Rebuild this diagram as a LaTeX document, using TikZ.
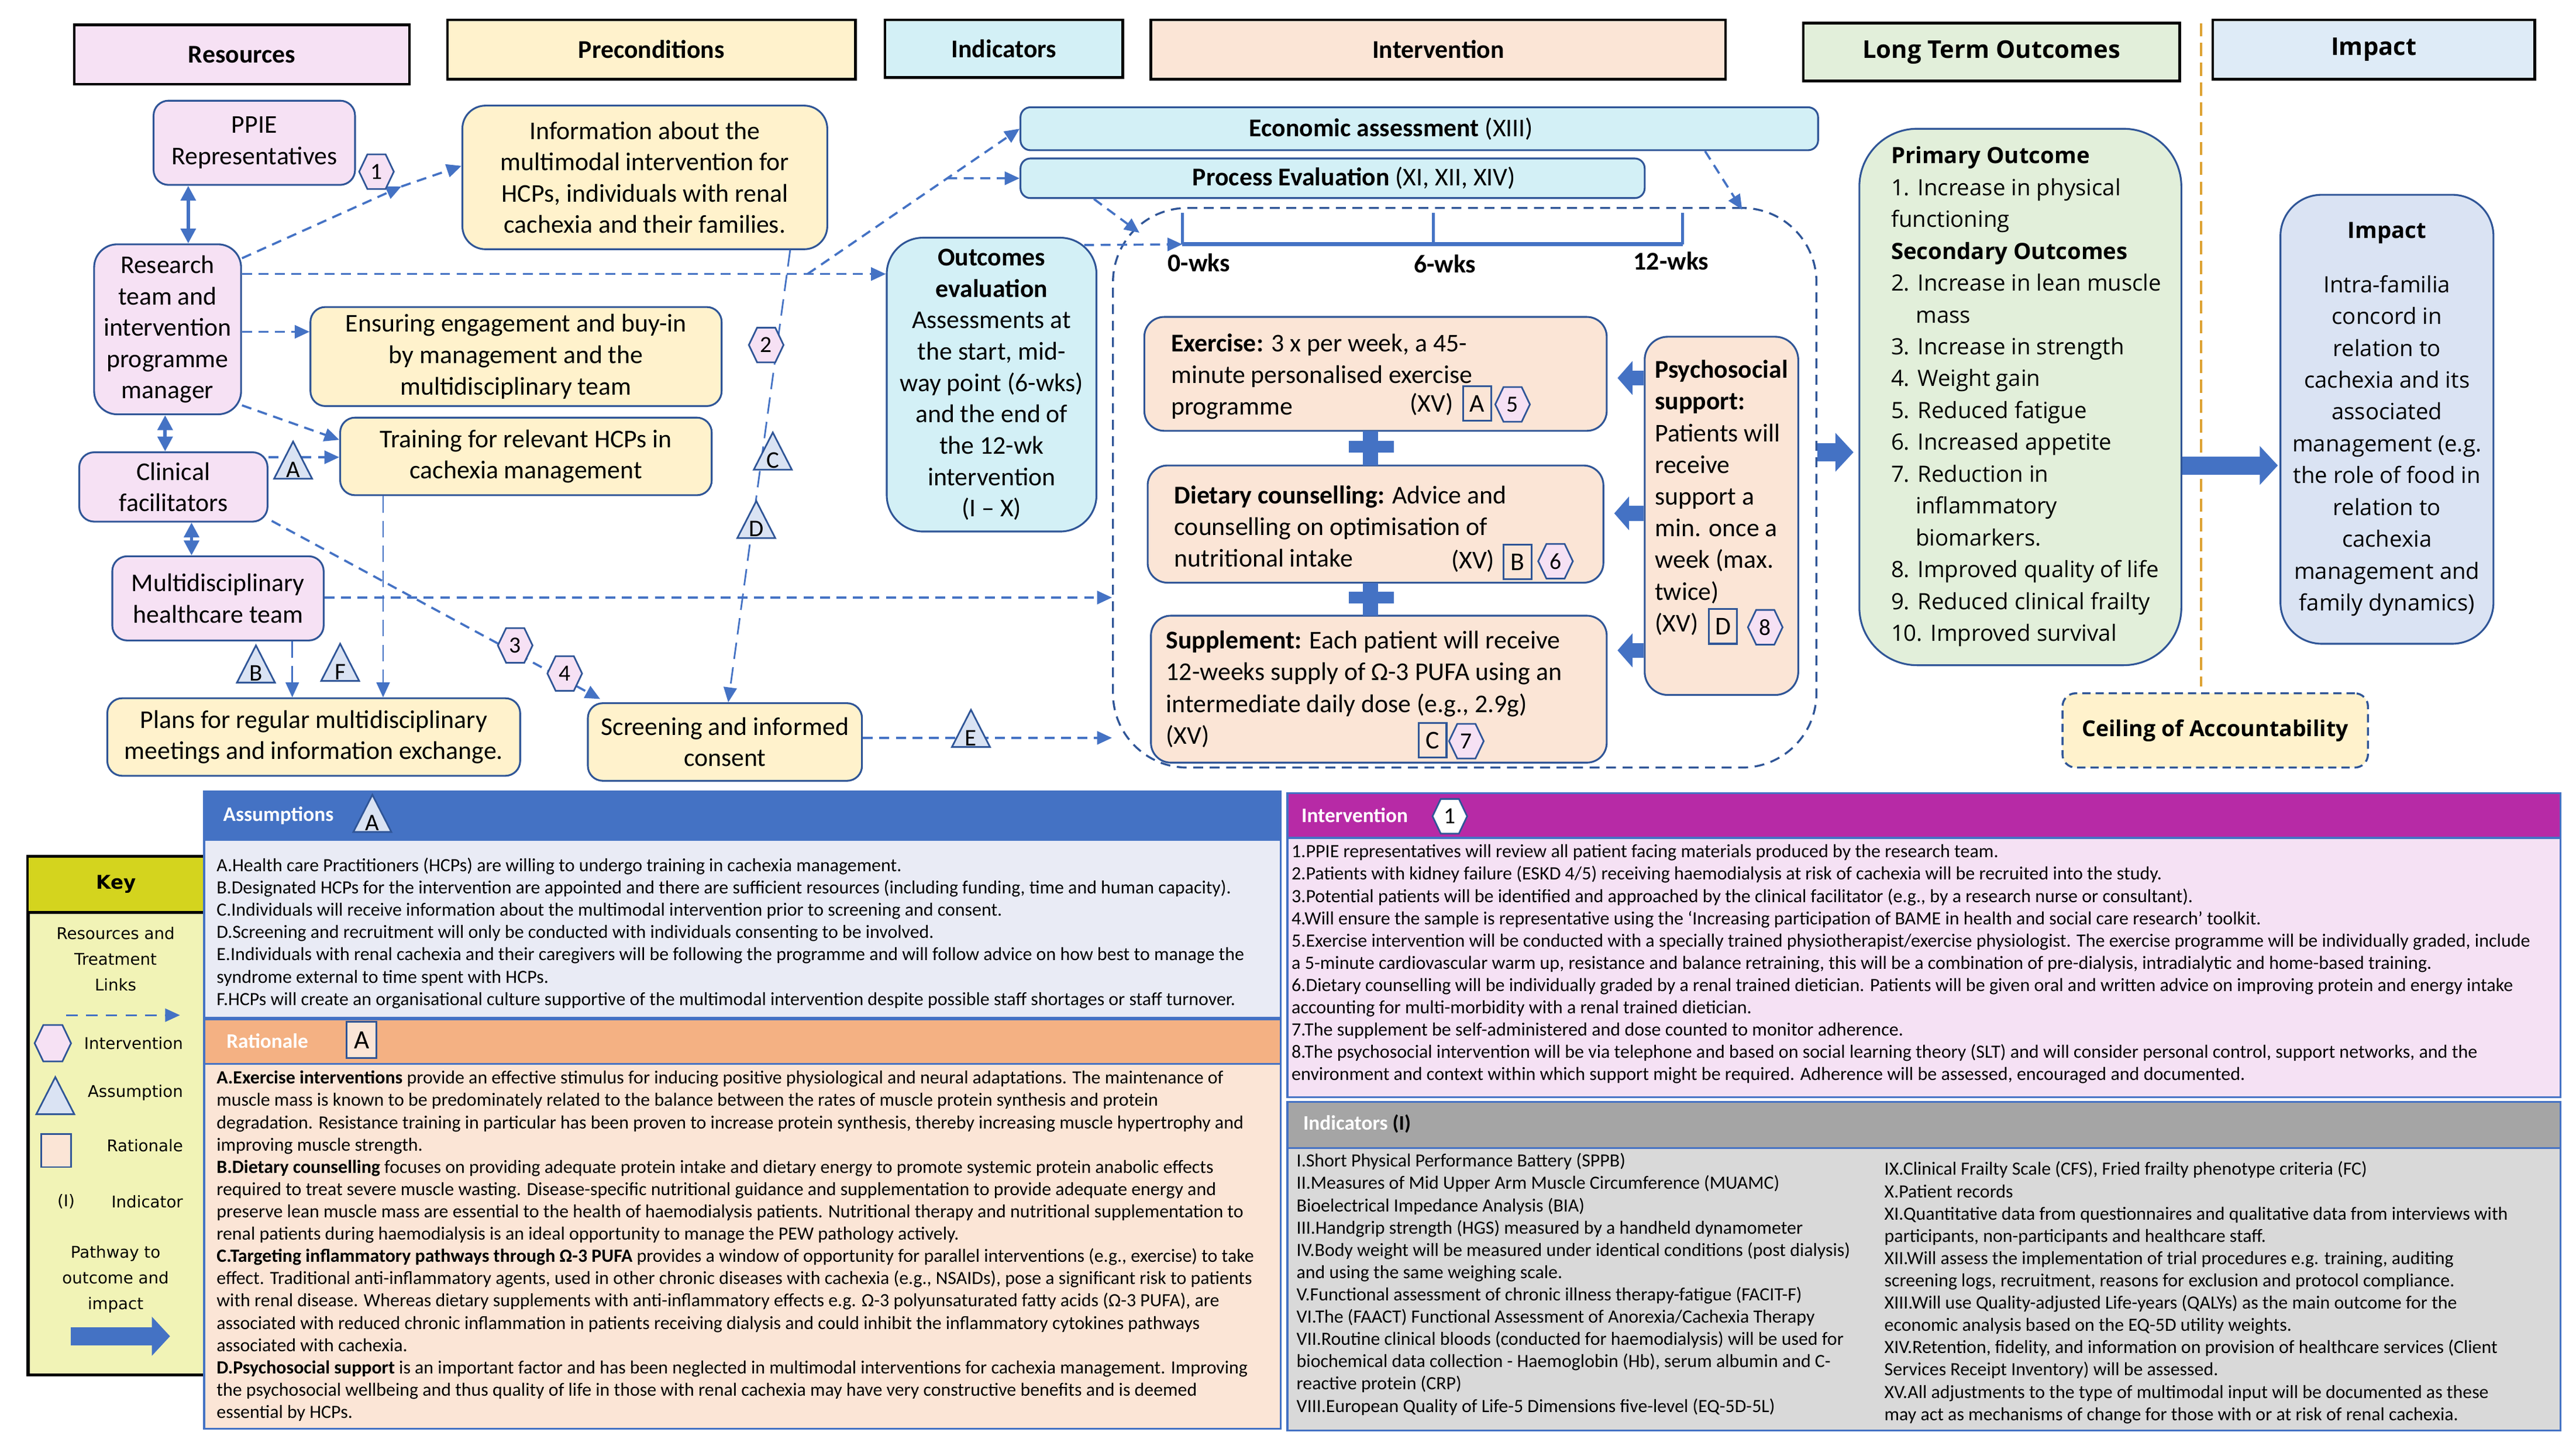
\documentclass[tikz,border=0pt]{standalone}
\usepackage{fontspec}
\setmainfont{Carlito}
\newfontfamily\osans{Open Sans}
\newfontfamily\dvs{DejaVu Sans}
\usetikzlibrary{arrows.meta,shapes.geometric,calc}
\definecolor{bdr}{HTML}{2F5597}
\definecolor{arr}{HTML}{4472C4}
\definecolor{pinkf}{HTML}{F6E1F4}
\definecolor{yelf}{HTML}{FFF2CC}
\definecolor{cyanf}{HTML}{D3F0F6}
\definecolor{peachf}{HTML}{FBE5D6}
\definecolor{greenf}{HTML}{E2EFDA}
\definecolor{bluef}{HTML}{DEEBF7}
\definecolor{impf}{HTML}{DAE3F3}
\definecolor{trif}{HTML}{DAE3F3}
\definecolor{keyh}{HTML}{D4D41E}
\definecolor{keyb}{HTML}{F1F3B6}
\definecolor{assb}{HTML}{E9EBF5}
\definecolor{rath}{HTML}{F4B183}
\definecolor{intph}{HTML}{B72AA6}
\definecolor{intpb}{HTML}{F5E1F4}
\definecolor{indh}{HTML}{A5A5A5}
\definecolor{indb}{HTML}{D9D9D9}
\definecolor{orng}{HTML}{DDA232}
\newcommand\fs[2]{\fontsize{#1}{#2}\selectfont}
\tikzset{
 hdr/.style={draw=black, line width=1.6pt, font=\fs{15.5}{19}\bfseries, inner sep=0pt},
 rbox/.style={draw=bdr, line width=1.1pt, rounded corners=9pt, align=center, font=\fs{15.5}{19}, inner sep=0pt},
 txt/.style={inner sep=0pt, align=left, font=\fs{15.5}{19.2}},
 small/.style={inner sep=0pt, align=left, anchor=north west, font=\fs{11.3}{13.5}},
 dl/.style={draw=arr, line width=1.3pt, dash pattern=on 6pt off 4pt, -{Triangle[length=9pt,width=8pt]}},
 dll/.style={draw=arr, line width=1pt, dash pattern=on 10pt off 5pt, -{Triangle[length=9pt,width=8pt]}},
 dbl/.style={draw=arr, line width=2pt, {Triangle[length=9pt,width=9pt]}-{Triangle[length=9pt,width=9pt]}},
 barrow/.style={draw=arr, line width=11pt, -{Triangle[length=11pt,width=23pt]}},
 barrowp/.style={draw=arr, line width=9pt, -{Triangle[length=9pt,width=20pt]}},
 lbox/.style={draw=bdr, line width=1.1pt, minimum width=17pt, minimum height=21pt, inner sep=0pt, font=\fs{15.5}{19}},
 keyt/.style={anchor=east, font=\dvs\fs{9.8}{12}, inner sep=0pt},
 pics/tri/.style={code={
   \draw[fill=trif,draw=bdr,line width=1pt] (-11.5,11) -- (11.5,11) -- (0,-11.5) -- cycle;
   \node[inner sep=0pt,font=\fs{14.5}{14}] (-l) at (0,5.5) {#1};
 }},
 pics/hexa/.style={code={
   \draw[fill=pinkf,draw=bdr,line width=1pt] (-10.5,0) -- (-5.5,-10.5) -- (5.5,-10.5) -- (10.5,0) -- (5.5,10.5) -- (-5.5,10.5) -- cycle;
   \node[inner sep=0pt,font=\fs{14}{14}] (-l) at (0,0) {#1};
 }},
 pics/hexw/.style={code={
   \draw[fill=white,draw=bdr,line width=1pt] (-10.5,0) -- (-5.5,-10.5) -- (5.5,-10.5) -- (10.5,0) -- (5.5,10.5) -- (-5.5,10.5) -- cycle;
   \node[inner sep=0pt,font=\fs{14}{14}] (-l) at (0,0) {#1};
 }},
}
\begin{document}
\begin{tikzpicture}[x=1pt,y=-1pt]
\useasboundingbox (0,0) rectangle (1560,880);
% ---------- headers
\node[hdr,fill=pinkf,minimum width=203pt,minimum height=36pt] (hRes) at (146.5,33) {Resources};
\node[hdr,fill=yelf,minimum width=247pt,minimum height=36pt] (hPre) at (394.5,30) {Preconditions};
\node[hdr,fill=cyanf,minimum width=144pt,minimum height=35pt] (hInd) at (608,29.5) {Indicators};
\node[hdr,fill=peachf,minimum width=348pt,minimum height=36pt] (hInt) at (871,30) {Intervention};
\node[hdr,fill=greenf,minimum width=228pt,minimum height=35pt,font=\osans\fs{14.8}{17}\bfseries] (hLto) at (1206,31.5) {Long Term Outcomes};
\node[hdr,fill=bluef,minimum width=195pt,minimum height=36pt,font=\osans\fs{14.8}{17}\bfseries] (hImp) at (1437.5,30) {Impact};
% ---------- helper coordinates
\coordinate (y166) at (0,166);
\coordinate (y201) at (0,201);
\coordinate (y277) at (0,277);
\coordinate (y362) at (0,362);
\coordinate (y447) at (0,447);
\coordinate (y229) at (0,229);
\coordinate (y311) at (0,311);
\coordinate (y394) at (0,394);
\coordinate (y274) at (0,274);
\coordinate (y282) at (0,282);
\coordinate (ax1) at (114,0);
\coordinate (ax2) at (100,0);
\coordinate (ax3) at (116,0);
\coordinate (ax4) at (177,0);
\coordinate (ax5) at (232,0);
% ---------- region
\node[draw=bdr, line width=1.2pt, dash pattern=on 6pt off 4pt, rounded corners=45pt, minimum width=426pt, minimum height=339pt, inner sep=0pt] (region) at (887,295.5) {};
% ---------- resources
\node[rbox,fill=pinkf,minimum width=122pt,minimum height=51pt] (ppie) at (154,86.5) {PPIE\\Representatives};
\node[rbox,fill=pinkf,minimum width=89pt,minimum height=103pt,rounded corners=14pt] (res) at (101.5,199.5) {Research\\team and\\intervention\\programme\\manager};
\node[rbox,fill=pinkf,minimum width=114pt,minimum height=42pt] (clin) at (105,295) {Clinical\\facilitators};
\node[rbox,fill=pinkf,minimum width=128pt,minimum height=51pt] (mdt) at (132,362.5) {Multidisciplinary\\healthcare team};
% ---------- preconditions
\node[rbox,fill=yelf,minimum width=221pt,minimum height=87pt,rounded corners=14pt] (info) at (390.5,107.5) {Information about the\\multimodal intervention for\\HCPs, individuals with renal\\cachexia and their families.};
\node[rbox,fill=yelf,minimum width=249pt,minimum height=60pt] (eng) at (312.5,216) {Ensuring engagement and buy-in\\by management and the\\multidisciplinary team};
\node[rbox,fill=yelf,minimum width=225pt,minimum height=47pt] (train) at (318.5,276.5) {Training for relevant HCPs in\\cachexia management};
\node[rbox,fill=yelf,minimum width=250pt,minimum height=47pt] (plans) at (190,446.5) {Plans for regular multidisciplinary\\meetings and information exchange.};
\node[rbox,fill=yelf,minimum width=166pt,minimum height=47pt] (screen) at (439,449.5) {Screening and informed\\consent};
% ---------- indicators
\node[rbox,fill=cyanf,minimum width=127pt,minimum height=178pt,rounded corners=22pt] (outev) at (600.5,233) {\textbf{Outcomes}\\\textbf{evaluation}\\Assessments at\\the start, mid-\\way point (6-wks)\\and the end of\\the 12-wk\\intervention\\(I – X)};
\node[rbox,fill=cyanf,minimum width=483pt,minimum height=26pt,rounded corners=6pt] (econ) at (859.5,78) {\textbf{Economic assessment} (XIII)\hspace*{34pt}};
\node[rbox,fill=cyanf,minimum width=378pt,minimum height=24pt,rounded corners=6pt] (proc) at (807,108) {\hspace*{26pt}\textbf{Process Evaluation} (XI, XII, XIV)};
% ---------- timeline
\coordinate (tl0) at (716,148);
\coordinate (tl6) at (868,148);
\coordinate (tl12) at (1019,148);
\draw[arr, line width=2.4pt] (tl0) -- (tl12);
\foreach \c in {tl0,tl6,tl12} \draw[arr, line width=1.6pt] (\c) -- ++(0,-19);
\node[font=\fs{15.5}{19}\bfseries, inner sep=0pt] (w0) at (726,159) {0-wks};
\node[font=\fs{15.5}{19}\bfseries, inner sep=0pt] (w6) at (875,160) {6-wks};
\node[font=\fs{15.5}{19}\bfseries, inner sep=0pt] (w12) at (1012,158) {12-wks};
% ---------- intervention boxes
\node[rbox,fill=peachf,minimum width=280pt,minimum height=69pt,rounded corners=12pt] (exer) at (833,226.5) {};
\node[txt,anchor=north west] (exert) at (709,202) {\textbf{Exercise:} 3 x per week, a 45-\\minute personalised exercise\\programme};
\node[rbox,fill=peachf,minimum width=276pt,minimum height=71pt,rounded corners=12pt] (diet) at (833,317.5) {};
\node[txt,anchor=north west] (dietxt) at (711,294) {\textbf{Dietary counselling:} Advice and\\counselling on optimisation of\\nutritional intake};
\node[rbox,fill=peachf,minimum width=276pt,minimum height=89pt,rounded corners=12pt] (supp) at (835,417.5) {};
\node[txt,anchor=north west] (supt) at (706,382) {\textbf{Supplement:} Each patient will receive\\12-weeks supply of Ω-3 PUFA using an\\intermediate daily dose (e.g., 2.9g)\\(XV)};
\node[rbox,fill=peachf,minimum width=93pt,minimum height=217pt,rounded corners=14pt] (psy) at (1042.5,312.5) {};
\node[txt,anchor=north west] (psyt) at (1002,218) {\textbf{Psychosocial}\\\textbf{support:}\\Patients will\\receive\\support a\\min. once a\\week (max.\\twice)\\(XV)};
% plus signs
\fill[arr] (817,267) rectangle (844,274);
\fill[arr] (825.5,261) rectangle (834.5,282);
\fill[arr] (817,358.5) rectangle (844,365.5);
\fill[arr] (825.5,353) rectangle (834.5,373);
% badges
\node[txt] (xv1) at (867,245) {(XV)};
\node[lbox] (rA) at (894.5,244.5) {A};
\node[txt] (xv2) at (892,340) {(XV)};
\node[lbox] (rB) at (919,340.5) {B};
\node[lbox] (rC) at (867.5,448.5) {C};
\node[lbox] (rD) at (1043.5,379.5) {D};
\pic (h5) at (916,245) {hexa=5};
\pic (h6) at (942,340) {hexa=6};
\pic (h7) at (888,449) {hexa=7};
\pic (h8) at (1069,380) {hexa=8};
% ---------- outcomes & impact
\coordinate (or1) at (1333,14);
\coordinate (or2) at (1333,416);
\draw[orng, line width=1.4pt, dash pattern=on 8pt off 4pt] (or1) -- (or2);
\node[rbox,fill=greenf,minimum width=195pt,minimum height=325pt,rounded corners=35pt] (lto) at (1223.5,240.5) {};
\node[txt,anchor=north west,font=\osans\fs{13.6}{19.3}] (ltot) at (1145,88.5) {\textbf{Primary Outcome}\\1. Increase in physical\\functioning\\\textbf{Secondary Outcomes}\\2. Increase in lean muscle\\\hspace*{15pt}mass\\3. Increase in strength\\4. Weight gain\\5. Reduced fatigue\\6. Increased appetite\\7. Reduction in\\\hspace*{15pt}inflammatory\\\hspace*{15pt}biomarkers.\\8. Improved quality of life\\9. Reduced clinical frailty\\10. Improved survival};
\node[rbox,fill=impf,minimum width=129pt,minimum height=272pt,rounded corners=25pt,font=\osans\fs{13.6}{19.3}] (imp) at (1445.5,254) {\textbf{Impact}\\[13.5pt]Intra-familia\\concord in\\relation to\\cachexia and its\\associated\\management (e.g.\\the role of food in\\relation to\\cachexia\\management and\\family dynamics)};
\node[draw=bdr, line width=1.2pt, dash pattern=on 5pt off 3pt, rounded corners=8pt, fill=yelf, minimum width=185pt, minimum height=45pt, inner sep=0pt, font=\osans\fs{13.3}{15}\bfseries] (ceil) at (1341.5,442.5) {Ceiling of Accountability};
% ---------- connectors
\draw[dbl] (ppie.south -| ax1) -- (res.north -| ax1);
\draw[dbl] (res.south -| ax2) -- (clin.north -| ax2);
\draw[dbl] (clin.south -| ax3) -- (mdt.north -| ax3);
\coordinate (m1) at (243,113);
\draw[dl] ($(res.north east)+(0,9)$) -- (m1);
\draw[dl] (m1) -- ($(info.west)+(0,-7)$);
\draw[dl] (res.east |- y166) -- (outev.west |- y166);
\coordinate (s0) at (489,166);
\draw[dl] (s0) -- (econ.west);
\draw[dl] ($(s0)!0.659!(econ.west)$) -- (proc.west);
\coordinate (pe1) at (690,141);
\draw[dl] ($(proc.south west)+(45,0)$) -- (pe1);
\coordinate (ee1) at (1055,127);
\draw[dl] ($(econ.south east)+(-69,0)$) -- (ee1);
\draw[dl] ($(outev.north east)+(-8,5)$) -- (tl0);
\draw[dl] (res.east |- y201) -- (eng.west |- y201);
\draw[dl] ($(res.south east)+(0,-6)$) -- ($(train.north west)+(0,14)$);
\draw[dl] (clin.east |- y277) -- (train.west |- y277);
\draw[dl] ($(clin.south east)+(2,-1)$) -- ($(screen.north west)+(8,-2)$);
\draw[dl] (mdt.east |- y362) -- (region.west |- y362);
\draw[dll] (mdt.south -| ax4) -- (plans.north -| ax4);
\draw[dll] (train.south -| ax5) -- (plans.north -| ax5);
\draw[dll] ($(info.south)+(88,0)$) -- ($(screen.north)+(2,0)$);
\draw[dl] (screen.east |- y447) -- (region.west |- y447);
\draw[barrow] (region.east |- y274) -- ($(lto.west |- y274)+(-3,0)$);
\draw[barrow] (lto.east |- y282) -- ($(imp.west |- y282)+(-1,0)$);
\draw[barrowp] (psy.west |- y229) -- ($(exer.east |- y229)+(6,0)$);
\draw[barrowp] (psy.west |- y311) -- ($(diet.east |- y311)+(6,0)$);
\draw[barrowp] (psy.west |- y394) -- ($(supp.east |- y394)+(6,0)$);
% markers on links
\pic (h1) at (228,104) {hexa=1};
\pic (h2) at (464,209) {hexa=2};
\pic (h3) at (312,391) {hexa=3};
\pic (h4) at (342,408) {hexa=4};
\pic (tA) at (177.5,279) {tri=A};
\pic (tB) at (155,402.5) {tri=B};
\pic (tC) at (468,273.5) {tri=C};
\pic (tD) at (458,315) {tri=D};
\pic (tE) at (588,441.5) {tri=E};
\pic (tF) at (206,401.5) {tri=F};
% ---------- key
\node[draw=black,line width=2pt,fill=keyb,anchor=north west,minimum width=107pt,minimum height=314pt,inner sep=0pt] (key) at (16,518) {};
\node[draw=black,line width=1.5pt,fill=keyh,anchor=north west,minimum width=107pt,minimum height=34pt,inner sep=0pt,font=\dvs\fs{11.5}{14}\bfseries] (keyh) at (16,518) {Key};
\node[font=\dvs\fs{9.8}{15.5}, align=center, inner sep=0pt] (k1) at (70,581) {Resources and\\Treatment\\Links};
\coordinate (kd1) at (40,615);
\coordinate (kd2) at (109,615);
\draw[draw=arr, line width=1pt, dash pattern=on 7pt off 5pt, -{Triangle[length=9pt,width=8pt]}] (kd1) -- (kd2);
\pic[scale=1.05] (kh) at (32,632) {hexa={}};
\node[keyt] (k2) at (111,632) {Intervention};
\pic (kt) at (33.5,664) {tri={}};
\node[keyt] (k3) at (111,662) {Assumption};
\node[draw=bdr,line width=1pt,fill=peachf,minimum width=18pt,minimum height=20pt,inner sep=0pt] (k4r) at (34,697) {};
\node[keyt] (k4) at (111,694) {Rationale};
\node[font=\dvs\fs{9.8}{12}, inner sep=0pt] (k5i) at (40,728) {(I)};
\node[keyt] (k5) at (111,728) {Indicator};
\node[font=\dvs\fs{9.8}{15.5}, align=center, inner sep=0pt] (k6) at (70,775) {Pathway to\\outcome and\\impact};
\coordinate (ka1) at (43,809.5);
\coordinate (ka2) at (103,809.5);
\draw[barrow] (ka1) -- (ka2);
% ---------- assumptions panel
\node[draw=arr,line width=1.2pt,fill=assb,anchor=north west,minimum width=652pt,minimum height=137pt,inner sep=0pt] (asp) at (123,479) {};
\node[draw=arr,line width=1.2pt,fill=arr,anchor=north west,minimum width=652pt,minimum height=29pt,inner sep=0pt] (asph) at (123,479) {};
\node[anchor=west,text=white,font=\fs{12.5}{15}\bfseries,inner sep=0pt] (aspt) at (135,494) {Assumptions};
\pic (aspA) at (225.5,493) {tri=A};
\node[small] (aspb) at (131,519.5) {A.Health care Practitioners (HCPs) are willing to undergo training in cachexia management.\\B.Designated HCPs for the intervention are appointed and there are sufficient resources (including funding, time and human capacity).\\C.Individuals will receive information about the multimodal intervention prior to screening and consent.\\D.Screening and recruitment will only be conducted with individuals consenting to be involved.\\E.Individuals with renal cachexia and their caregivers will be following the programme and will follow advice on how best to manage the\\syndrome external to time spent with HCPs.\\F.HCPs will create an organisational culture supportive of the multimodal intervention despite possible staff shortages or staff turnover.};
% ---------- rationale panel
\node[draw=arr,line width=1.2pt,fill=peachf,anchor=north west,minimum width=652pt,minimum height=248pt,inner sep=0pt] (rat) at (123,617) {};
\node[draw=arr,line width=1.2pt,fill=rath,anchor=north west,minimum width=652pt,minimum height=27pt,inner sep=0pt] (rath) at (123,617) {};
\node[anchor=west,text=white,font=\fs{12.5}{15}\bfseries,inner sep=0pt] (ratt) at (137,630.5) {Rationale};
\node[draw=bdr, line width=1.1pt, fill=peachf, minimum width=18pt, minimum height=22pt, inner sep=0pt, font=\fs{16}{19}] (ratA) at (219,630) {A};
\node[small] (ratb) at (131,648.5) {\textbf{A.Exercise interventions} provide an effective stimulus for inducing positive physiological and neural adaptations. The maintenance of\\muscle mass is known to be predominately related to  the balance between the rates of muscle protein synthesis and protein\\degradation. Resistance training in particular has been proven to increase protein synthesis, thereby increasing muscle hypertrophy and\\improving muscle strength.\\\textbf{B.Dietary counselling} focuses on providing adequate protein intake and dietary energy to promote systemic protein anabolic effects\\required to treat severe muscle wasting. Disease-specific nutritional guidance and supplementation to provide adequate energy and\\preserve lean muscle mass are essential to the health of haemodialysis patients. Nutritional therapy and nutritional supplementation to\\renal patients during haemodialysis is an ideal opportunity to manage the PEW pathology actively.\\\textbf{C.Targeting inflammatory pathways through Ω-3 PUFA} provides a window of opportunity for parallel interventions (e.g., exercise) to take\\effect.  Traditional anti-inflammatory agents, used in other chronic diseases with cachexia (e.g., NSAIDs), pose a significant risk to patients\\with renal disease. Whereas dietary supplements with anti-inflammatory effects e.g. Ω-3 polyunsaturated fatty acids (Ω-3 PUFA), are\\associated with reduced chronic inflammation in patients receiving dialysis and could inhibit the inflammatory cytokines pathways\\associated with cachexia.\\\textbf{D.Psychosocial support} is an important factor and has been neglected in multimodal interventions for cachexia management. Improving\\the psychosocial wellbeing and thus quality of life in those with renal cachexia may have very constructive benefits and is deemed\\essential by HCPs.};
% ---------- intervention panel
\node[draw=arr,line width=1.2pt,fill=intpb,anchor=north west,minimum width=771pt,minimum height=184pt,inner sep=0pt] (intp) at (779,480) {};
\node[draw=arr,line width=1.2pt,fill=intph,anchor=north west,minimum width=771pt,minimum height=27pt,inner sep=0pt] (intph) at (779,480) {};
\node[anchor=west,text=white,font=\fs{12.5}{15}\bfseries,inner sep=0pt] (intpt) at (788,494) {Intervention};
\pic (ip1) at (878,494.5) {hexw=1};
\node[small,font=\fs{11.35}{13.5}] (intpb) at (782,511.5) {1.PPIE representatives will review all patient facing materials produced by the research team.\\2.Patients with kidney failure (ESKD 4/5) receiving haemodialysis at risk of cachexia will be recruited into the study.\\3.Potential patients will be identified and approached by the clinical  facilitator (e.g., by a research nurse or consultant).\\4.Will ensure the sample is representative using the ‘Increasing participation of BAME in health and social care research’ toolkit.\\5.Exercise intervention will be conducted with a specially trained physiotherapist/exercise physiologist. The exercise programme will be individually graded, include\\a 5-minute cardiovascular warm up, resistance and balance retraining, this will be a combination of pre-dialysis, intradialytic and home-based training.\\6.Dietary counselling will be individually graded by a renal trained dietician. Patients will be given oral and written advice on improving protein and energy intake\\accounting for multi-morbidity with a renal trained dietician.\\7.The supplement be self-administered and dose counted to monitor adherence.\\8.The psychosocial intervention will be via telephone and based on social learning theory (SLT) and will consider personal control, support networks, and the\\environment and context within which support might be required. Adherence will be assessed, encouraged and documented.};
% ---------- indicators panel
\node[draw=arr,line width=1.2pt,fill=indb,anchor=north west,minimum width=771pt,minimum height=199pt,inner sep=0pt] (indp) at (779,667) {};
\node[draw=arr,line width=1.2pt,fill=indh,anchor=north west,minimum width=771pt,minimum height=28pt,inner sep=0pt] (indph) at (779,667) {};
\node[anchor=west,font=\fs{12.5}{15}\bfseries,inner sep=0pt] (indpt) at (789,681) {\textcolor{white}{Indicators} (I)};
\node[small] (indl) at (785,698.5) {I.Short Physical Performance Battery (SPPB)\\II.Measures of Mid Upper Arm Muscle Circumference (MUAMC)\\Bioelectrical Impedance Analysis (BIA)\\III.Handgrip strength (HGS) measured by a handheld dynamometer\\IV.Body weight will be measured under identical conditions (post dialysis)\\and using the same weighing scale.\\V.Functional assessment of chronic illness therapy-fatigue (FACIT-F)\\VI.The (FAACT) Functional Assessment of Anorexia/Cachexia Therapy\\VII.Routine clinical bloods (conducted for haemodialysis) will be used for\\biochemical data collection - Haemoglobin (Hb), serum albumin and C-\\reactive protein (CRP)\\VIII.European Quality of Life-5 Dimensions five-level (EQ-5D-5L)};
\node[small] (indr) at (1141,703.5) {IX.Clinical Frailty Scale (CFS), Fried frailty phenotype criteria (FC)\\X.Patient records\\XI.Quantitative data from questionnaires and qualitative data from interviews with\\participants, non-participants and healthcare staff.\\XII.Will assess the implementation of trial procedures e.g. training, auditing\\screening logs, recruitment, reasons for exclusion and protocol compliance.\\XIII.Will use Quality-adjusted Life-years (QALYs) as the main outcome for the\\economic analysis based on the EQ-5D utility weights.\\XIV.Retention, fidelity, and information on provision of healthcare services (Client\\Services Receipt Inventory) will be assessed.\\XV.All adjustments to the type of multimodal input will be documented as these\\may act as mechanisms of change for those with or at risk of renal cachexia.};
\end{tikzpicture}
\end{document}
